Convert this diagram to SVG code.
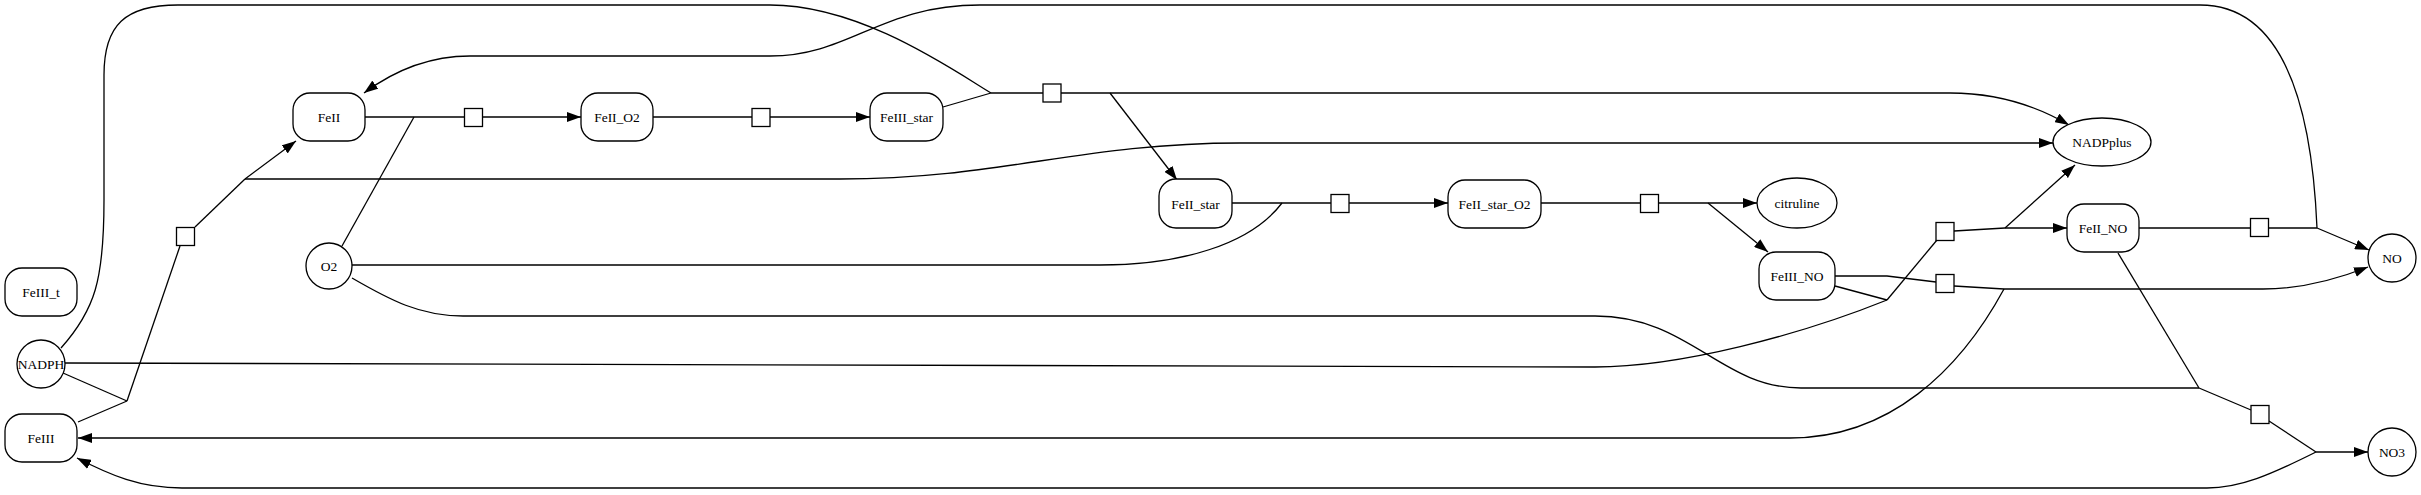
<svg xmlns="http://www.w3.org/2000/svg" width="2421" height="495" viewBox="0 0 2421 495">
<style>
.e{fill:none;stroke:#000;stroke-width:1.3}
.a{marker-end:url(#ah)}
.n{fill:#fff;stroke:#000;stroke-width:1.3}
.r{fill:#fff;stroke:#000;stroke-width:1.3}
text{font-family:"Liberation Serif","Times New Roman",serif;font-size:13.5px;text-anchor:middle;fill:#000}
</style>
<defs>
<marker id="ah" markerWidth="14" markerHeight="10" refX="14" refY="5" orient="auto" markerUnits="userSpaceOnUse"><path d="M0,0 L14,5 L0,10 z" fill="#000"/></marker>
</defs>
<rect width="2421" height="495" fill="#fff"/>
<g id="connectors">
<!-- R1 FeIII + NADPH -> FeII + NADPplus -->
<path class="e" d="M63,373 L127,401"/>
<path class="e" d="M78,422 L127,401"/>
<path class="e" d="M127,401 L180,246"/>
<path class="e" d="M195,227 L245,179"/>
<path class="e a" d="M245,179 L296,141"/>
<path class="e a" d="M245,179 L840,179 C1000,179 1080,143 1240,143 L2053,143"/>
<!-- R2 FeII + O2 -> FeII_O2 -->
<path class="e" d="M365,117 L464,117"/>
<path class="e" d="M342,246 L414,117"/>
<path class="e a" d="M483,117 L581,117"/>
<!-- R3 FeII_O2 -> FeIII_star -->
<path class="e" d="M653,117 L752,117"/>
<path class="e a" d="M770,117 L870,117"/>
<!-- R4 FeIII_star + NADPH -> FeII_star + NADPplus -->
<path class="e" d="M943,107 L991,93"/>
<path class="e" d="M61,348 C95,310 104,280 104,200 L104,75 C104,25 125,5 178,5 L770,5 C860,5 950,68 991,93"/>
<path class="e" d="M991,93 L1043,93"/>
<path class="e" d="M1061,93 L1110,93"/>
<path class="e a" d="M1110,93 L1177,180"/>
<path class="e a" d="M1110,93 L1950,93 C2000,93 2040,108 2069,125"/>
<!-- R5 FeII_star + O2 -> FeII_star_O2 -->
<path class="e" d="M1232,203 L1331,203"/>
<path class="e" d="M352,265 L1100,265 C1180,265 1250,245 1282,203"/>
<path class="e a" d="M1349,203 L1448,203"/>
<!-- R6 FeII_star_O2 -> citruline + FeIII_NO -->
<path class="e" d="M1541,203 L1640,203"/>
<path class="e" d="M1659,203 L1708,203"/>
<path class="e a" d="M1708,203 L1757,203"/>
<path class="e a" d="M1708,203 L1768,252"/>
<!-- R7 FeIII_NO + NADPH -> FeII_NO + NADPplus -->
<path class="e" d="M1835,286 L1887,300"/>
<path class="e" d="M65,363 L1595,367 C1680,367 1800,335 1887,300"/>
<path class="e" d="M1887,300 L1937,240"/>
<path class="e" d="M1954,231 L2005,228"/>
<path class="e a" d="M2005,228 L2067,228"/>
<path class="e a" d="M2005,228 L2075,165"/>
<!-- R8 FeIII_NO -> NO + FeIII -->
<path class="e" d="M1835,276 L1887,276 L1936,282"/>
<path class="e" d="M1954,286 L2004,289"/>
<path class="e a" d="M2004,289 L2263,289 C2300,289 2335,280 2368,267"/>
<path class="e a" d="M2004,289 C1960,370 1890,438 1790,438 L78,438"/>
<!-- R9 FeII_NO -> NO + FeII -->
<path class="e" d="M2139,228 L2250,228"/>
<path class="e" d="M2269,228 L2317,228"/>
<path class="e a" d="M2317,228 L2369,250"/>
<path class="e a" d="M2317,228 C2312,110 2285,5 2200,5 L980,5 C880,5 850,56 770,56 L470,56 C430,56 395,70 364,93"/>
<!-- R10 FeII_NO + O2 -> NO3 + FeIII -->
<path class="e" d="M2118,253 L2199,388"/>
<path class="e" d="M352,278 C390,300 420,316 463,316 L1595,316 C1690,316 1720,388 1801,388 L2199,388"/>
<path class="e" d="M2199,388 L2251,410"/>
<path class="e" d="M2269,421 L2316,452"/>
<path class="e a" d="M2316,452 L2368,452"/>
<path class="e a" d="M2316,452 C2270,475 2240,488 2207,488 L182,488 C140,488 110,475 77,458"/>
</g>
<g id="reactions">
<rect id="r1" class="r" x="176.5" y="227.5" width="18" height="18"/>
<rect id="r2" class="r" x="464.5" y="108.5" width="18" height="18"/>
<rect id="r3" class="r" x="752" y="108.5" width="18" height="18"/>
<rect id="r4" class="r" x="1043" y="84" width="18" height="18"/>
<rect id="r5" class="r" x="1331" y="194.5" width="18" height="18"/>
<rect id="r6" class="r" x="1640.5" y="194.5" width="18" height="18"/>
<rect id="r7" class="r" x="1936" y="222.5" width="18" height="18"/>
<rect id="r8" class="r" x="1936" y="274.5" width="18" height="18"/>
<rect id="r9" class="r" x="2250.5" y="218.5" width="18" height="18"/>
<rect id="r10" class="r" x="2251" y="405.5" width="18" height="18"/>
</g>
<g id="FeII"><rect class="n" x="293" y="93" width="72" height="48" rx="17"/><text x="329" y="122">FeII</text></g>
<g id="FeII_O2"><rect class="n" x="581" y="93" width="72" height="48" rx="17"/><text x="617" y="122">FeII_O2</text></g>
<g id="FeIII_star"><rect class="n" x="870" y="93" width="73" height="48" rx="17"/><text x="906.5" y="122">FeIII_star</text></g>
<g id="FeII_star"><rect class="n" x="1159" y="179" width="73" height="49" rx="17"/><text x="1195.5" y="208.5">FeII_star</text></g>
<g id="FeII_star_O2"><rect class="n" x="1448" y="180" width="93" height="48" rx="17"/><text x="1494.5" y="209">FeII_star_O2</text></g>
<g id="citruline"><ellipse class="n" cx="1797" cy="203" rx="40" ry="25"/><text x="1797" y="208">citruline</text></g>
<g id="FeIII_NO"><rect class="n" x="1759" y="252" width="76" height="48" rx="17"/><text x="1797" y="281">FeIII_NO</text></g>
<g id="FeII_NO"><rect class="n" x="2067" y="204" width="72" height="48" rx="17"/><text x="2103" y="233">FeII_NO</text></g>
<g id="NADPplus"><ellipse class="n" cx="2102" cy="142" rx="49" ry="24"/><text x="2102" y="147">NADPplus</text></g>
<g id="NO"><circle class="n" cx="2392" cy="258" r="24"/><text x="2392" y="263">NO</text></g>
<g id="NO3"><circle class="n" cx="2392" cy="452" r="24"/><text x="2392" y="457">NO3</text></g>
<g id="O2"><circle class="n" cx="329" cy="266" r="23"/><text x="329" y="271">O2</text></g>
<g id="NADPH"><circle class="n" cx="41" cy="364" r="24"/><text x="41" y="369">NADPH</text></g>
<g id="FeIII_t"><rect class="n" x="5" y="268" width="72" height="48" rx="17"/><text x="41" y="297">FeIII_t</text></g>
<g id="FeIII"><rect class="n" x="5" y="414" width="72" height="48" rx="17"/><text x="41" y="443">FeIII</text></g>
</svg>
